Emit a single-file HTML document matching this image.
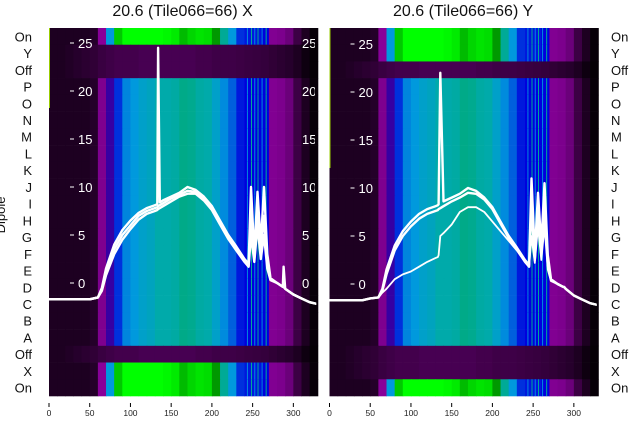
<!DOCTYPE html>
<html><head><meta charset="utf-8"><style>
body{margin:0;background:#fff;width:640px;height:440px;overflow:hidden}
svg{display:block;font-family:"Liberation Sans","DejaVu Sans",sans-serif}
</style></head><body>
<svg id="chart" width="640" height="440"></svg>
<script>
const rowLabels=["On","Y","Off","P","O","N","M","L","K","J","I","H","G","F","E","D","C","B","A","Off","X","On"];
const rowTypesX=["on","off","off","d","d","d","d","d","d","d","d","d","d","d","d","d","d","d","d","off","on","on"];
const rowTypesY=["on","on","off","d","d","d","d","d","d","d","d","d","d","d","d","d","d","d","d","off","off","on"];
const colStarts=[0,10,20,30,40,50,60,70,80,90,100,110,120,130,140,150,160,170,180,190,200,210,220,230,240,250,260,270,280,290,300,310,320];
const dipoleVals=[0.012,0.012,0.012,0.012,0.012,0.015,0.07,0.13,0.22,0.27,0.3,0.32,0.33,0.35,0.35,0.36,0.4,0.39,0.36,0.35,0.32,0.28,0.24,0.21,0.2,0.2,0.2,0.08,0.065,0.045,0.025,0.012,0.003];
const onVals=[0.012,0.012,0.012,0.012,0.012,0.015,0.1,0.3,0.52,0.6,0.6,0.6,0.6,0.6,0.59,0.57,0.5,0.54,0.56,0.55,0.45,0.38,0.3,0.22,0.21,0.21,0.2,0.08,0.065,0.045,0.025,0.012,0.003];
const offVals=[0.012,0.012,0.014,0.016,0.018,0.02,0.024,0.026,0.028,0.028,0.028,0.03,0.03,0.03,0.03,0.03,0.03,0.03,0.028,0.028,0.026,0.026,0.026,0.025,0.024,0.023,0.022,0.02,0.018,0.016,0.012,0.006,0.002];
const stripeX=[243,248,252,256,261,266];
const xTicks=[0,50,100,150,200,250,300];
const yTicks=[0,5,10,15,20,25];
const lineX=[0,10,20,30,40,50,60,65,70,80,90,100,110,120,130,133,134,136,140,150,160,170,180,190,200,210,220,230,240,245,248,252,256,260,264,268,272,280,287,288,290,300,310,320,330];
const xSeries1=[-1.7,-1.7,-1.7,-1.7,-1.7,-1.7,-1.5,-0.5,1.5,4,5.5,6.5,7.3,7.8,8.1,8.2,24.5,8.4,8.6,9,9.4,10,9.7,9,8,6.5,5,3.8,2.5,2,10,3,9.5,4,10,3,0.5,0,-0.4,1.7,-0.6,-1.2,-1.6,-2,-2.2];
const xSeries2=[-1.7,-1.7,-1.7,-1.7,-1.7,-1.7,-1.5,-0.7,1,3.5,5,6,7,7.5,7.8,7.9,8,8.1,8.3,8.8,9.2,9.6,9.5,8.8,7.8,6.3,4.8,3.6,2.3,1.8,7,2.5,8,3,7,2,0.4,0,-0.4,-0.4,-0.6,-1.2,-1.6,-2,-2.2];
const xSeries3=[-1.7,-1.7,-1.7,-1.7,-1.7,-1.7,-1.5,-0.8,0.8,3,4.5,5.6,6.6,7.2,7.5,7.6,7.7,7.8,8,8.5,9,9.3,9.3,8.6,7.6,6.1,4.6,3.4,2.2,1.7,5,2.2,6,2.5,5,1.5,0.3,0,-0.4,-0.4,-0.6,-1.2,-1.6,-2,-2.2];
const ySeries1=[-1.7,-1.7,-1.7,-1.7,-1.7,-1.5,-1.4,-0.5,1.5,4,5.5,6.5,7.3,7.8,8.1,8.2,8.3,22,8.6,9,9.4,10,9.7,9,8,6.5,5,3.8,2.5,2,11,3,9.5,4,10.5,3,0.5,0,-0.3,-0.3,-0.5,-1.2,-1.6,-2,-2.2];
const ySeries2=[-1.7,-1.7,-1.7,-1.7,-1.7,-1.5,-1.4,-0.7,1,3.5,5,6,6.8,7.3,7.6,7.7,7.8,7.9,8.1,8.6,9,9.5,9.4,8.8,7.8,6.3,4.8,3.6,2.3,1.8,8,2.5,8,3,8,2,0.4,0,-0.3,-0.3,-0.5,-1.2,-1.6,-2,-2.2];
const ySeries3=[-1.7,-1.7,-1.7,-1.7,-1.7,-1.5,-1.4,-0.9,-0.5,0.5,1,1.3,1.8,2.3,2.7,2.8,3,5,5.3,6.2,7.5,8,8,7.5,6.5,5.5,4.5,3.5,2.3,1.8,5,2.2,6,2.5,6,1.5,0.3,0,-0.3,-0.3,-0.5,-1.2,-1.6,-2,-2.2];

const cmap=[[0,0,0],[.4667,0,.5333],[.5333,0,.6],[0,0,.6667],[0,0,.8667],[0,.4667,.8667],[0,.6,.8667],[0,.6667,.6667],[0,.6667,.5333],[0,.6,0],[0,.7333,0],[0,.8667,0],[0,1,0],[.7333,1,0],[.9333,.9333,0],[1,.8,0],[1,.6,0],[1,0,0],[.8667,0,0],[.8,0,0],[.8,.8,.8]];
function color(v){v=Math.max(0,Math.min(1,v))*20;const i=Math.min(19,Math.floor(v)),f=v-i;const a=cmap[i],b=cmap[i+1];
 return 'rgb('+[0,1,2].map(k=>Math.round((a[k]+(b[k]-a[k])*f)*255)).join(',')+')';}
const NS='http://www.w3.org/2000/svg',svg=document.getElementById('chart');
function el(t,at,p){const e=document.createElementNS(NS,t);for(const k in at)e.setAttribute(k,at[k]);(p||svg).appendChild(e);return e;}
const top0=28,bot0=396,rowH=(bot0-top0)/22;
function panel(x0,types,series,title,yz,id){
 const sx=v=>x0+v*0.8145, sy=v=>yz-v*9.6, right=sx(328);
 const g=el('g',{});
 
 
 const cp=el('clipPath',{id:'cp'+id},g);el('rect',{x:x0,y:top0,width:right-x0,height:bot0-top0},cp);
 types.forEach((t,r)=>{const vals=t==='on'?onVals:t==='off'?offVals:dipoleVals;
  colStarts.forEach((c,i)=>{const cell=el('rect',{x:sx(c),y:top0+r*rowH,width:sx(c+10)-sx(c)+0.5,height:rowH+0.3,fill:color(vals[i])},g);
   
   });
  if(t!=='off')stripeX.forEach((s,j)=>{const st=el('rect',{x:sx(s),y:top0+r*rowH,width:1,height:rowH,fill:j%2?color(0.38):color(0.28)},g);
   
   });
 });
 el('rect',{x:x0,y:top0,width:1,height:id==='x'?80:140,fill:'#9c0'},g);
 const lg=el('g',{'clip-path':'url(#cp'+id+')'},g);
 series.forEach((s,k)=>{const p=el('polyline',{points:lineX.map((x,i)=>sx(x).toFixed(1)+','+sy(s[i]).toFixed(1)).join(' '),fill:'none',stroke:'#fff','stroke-width':k===2&&id==='y'?1.8:2.4,'stroke-linejoin':'round'},lg);
  
  });
 yTicks.forEach(v=>{const tx=x0+21;el('line',{x1:tx,x2:tx+4,y1:sy(v),y2:sy(v),stroke:'#fff','stroke-width':1},g);
  const t=el('text',{x:tx+8,y:sy(v)+5,fill:'#fff','font-size':13},g);t.textContent=v;
  
  });
 xTicks.forEach(v=>{el('line',{x1:sx(v),x2:sx(v),y1:403,y2:407,stroke:'#000','stroke-width':1});
  const t=el('text',{x:sx(v),y:416,'text-anchor':'middle','font-size':8.5,fill:'#222'});t.textContent=v;
  
  });
 const tt=el('text',{x:(x0+right)/2,y:16,'text-anchor':'middle','font-size':16,fill:'#111'});tt.textContent=title;
 
 
 return {sx,sy,right};
}
const P1=panel(49,rowTypesX,[xSeries1,xSeries2,xSeries3],'20.6 (Tile066=66) X',283,'x');
const P2=panel(329.5,rowTypesY,[ySeries1,ySeries2,ySeries3],'20.6 (Tile066=66) Y',284,'y');
const cg=el('clipPath',{id:'cpe'});el('rect',{x:300,y:top0,width:15,height:bot0-top0},cg);
const eg=el('g',{'clip-path':'url(#cpe)'});
yTicks.forEach(v=>{const t=el('text',{x:302,y:P1.sy(v)+5,fill:'#fff','font-size':13},eg);t.textContent=v;});
rowLabels.forEach((l,r)=>{const y=top0+(r+0.5)*rowH+5;
 const a=el('text',{x:32,y,'text-anchor':'end','font-size':13,fill:'#111'});a.textContent=l;
 
 
 const b=el('text',{x:611,y,'font-size':13,fill:'#111'});b.textContent=l;
 
 });
const yl=el('text',{x:5,y:215,transform:'rotate(-90 5 215)','text-anchor':'middle','font-size':13,fill:'#111'});yl.textContent='Dipole';


</script>
</body></html>
